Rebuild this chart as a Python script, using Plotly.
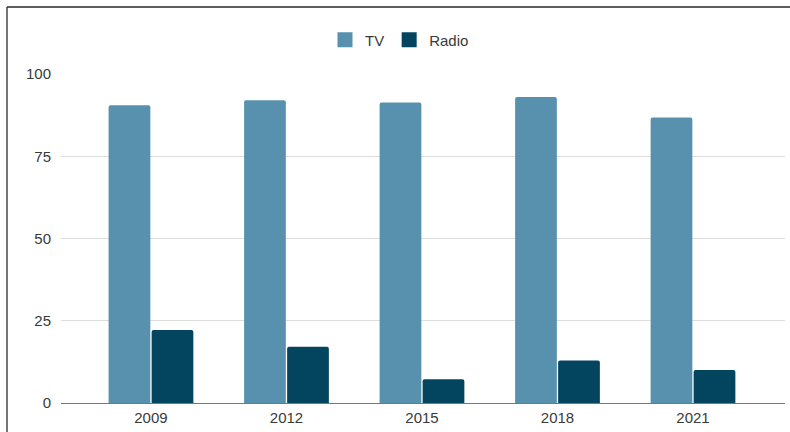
import plotly.graph_objects as go

years = ["2009", "2012", "2015", "2018", "2021"]
tv = [90.5, 92, 91.3, 93, 86.8]
radio = [22.2, 17.1, 7.2, 12.9, 10]
y_ticks = [0, 25, 50, 75, 100]
series_names = ["TV", "Radio"]
series_colors = ["#5891AE", "#03445F"]

W, H = 790, 432
L, R, T, B = 61, 5, 74, 29
pw, ph = W - L - R, H - T - B

def px_x(px):
    return (px - L) / pw

def px_y(py):
    return (H - B - py) / ph

fig = go.Figure()
for name, vals, col in zip(series_names, [tv, radio], series_colors):
    fig.add_trace(go.Bar(name=name, x=years, y=vals, legendgroup=name, showlegend=False,
                         marker=dict(color=col, line=dict(width=0))))
for name, col in zip(series_names, series_colors):
    fig.add_trace(go.Scatter(name=name, x=[None], y=[None], mode="markers", legendgroup=name,
                             marker=dict(symbol="square", size=15, color=col, line=dict(width=0))))

fig.update_layout(
    width=W, height=H,
    margin=dict(l=L, r=R, t=T, b=B, pad=0),
    paper_bgcolor="white", plot_bgcolor="white",
    font=dict(family="Liberation Sans, Arial, sans-serif", size=15, color="#3a3a3a"),
    barmode="group", bargap=0.365, bargroupgap=0.03,
    barcornerradius=2,
    showlegend=True,
    legend=dict(orientation="h", x=px_x(325), y=px_y(40), xanchor="left", yanchor="middle",
                font=dict(size=15, color="#3a3a3a"), bgcolor="rgba(0,0,0,0)", borderwidth=0),
    xaxis=dict(type="category", range=[-0.664, 4.679], showgrid=False, showline=False,
               ticks="", zeroline=False, ticklabelstandoff=4,
               tickfont=dict(size=15, color="#3a3a3a")),
    yaxis=dict(range=[0, 100], tickvals=y_ticks, ticktext=[str(v) for v in y_ticks],
               showgrid=True, gridcolor="#dcdcdc", gridwidth=1, zeroline=True,
               zerolinecolor="#777777", zerolinewidth=1.3, showline=False, ticks="",
               ticklabelstandoff=9, tickfont=dict(size=15, color="#3a3a3a")),
    shapes=[
        dict(type="line", xref="paper", yref="paper", x0=px_x(7), x1=px_x(800), y0=px_y(7), y1=px_y(7),
             line=dict(color="#2a2a2a", width=1.3)),
        dict(type="line", xref="paper", yref="paper", x0=px_x(7), x1=px_x(7), y0=px_y(7), y1=px_y(440),
             line=dict(color="#2a2a2a", width=1.3)),
    ],
)

fig.write_html("out.html", config={"displayModeBar": False},
               post_script="document.body.style.margin='0';document.body.style.overflow='hidden';")
